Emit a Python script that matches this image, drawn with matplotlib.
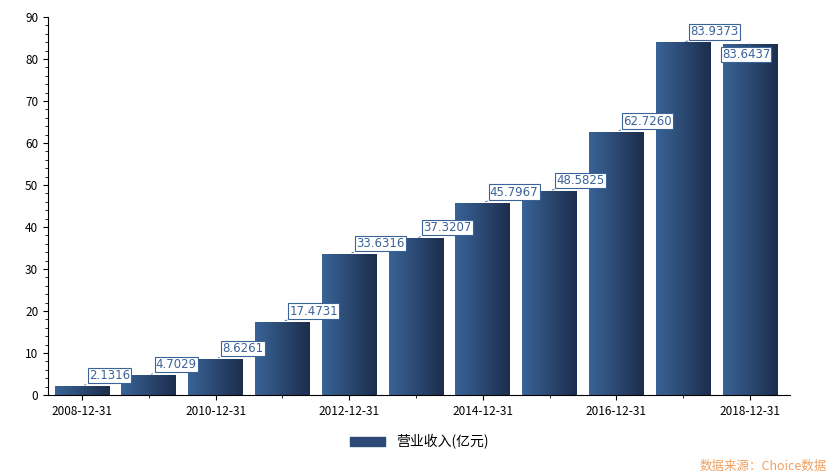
import numpy as np
import matplotlib.pyplot as plt
from matplotlib.patches import Patch

plt.rcParams['font.family'] = ['Noto Sans CJK SC', 'DejaVu Sans']

dates = ['2008-12-31', '2009-12-31', '2010-12-31', '2011-12-31', '2012-12-31', '2013-12-31',
         '2014-12-31', '2015-12-31', '2016-12-31', '2017-12-31', '2018-12-31']
revenue = [2.1316, 4.7029, 8.6261, 17.4731, 33.6316, 37.3207, 45.7967, 48.5825, 62.7260, 83.9373, 83.6437]
labels = ['2.1316', '4.7029', '8.6261', '17.4731', '33.6316', '37.3207', '45.7967', '48.5825',
          '62.7260', '83.9373', '83.6437']

fig = plt.figure(figsize=(8.31, 4.75), dpi=100)
ax = fig.add_axes([48/831, 80/475, 742/831, 378/475])

x = np.arange(len(revenue))
w = 0.82
bars = ax.bar(x, revenue, width=w, color='none', edgecolor='none')
grad = np.linspace(0, 1, 100).reshape(1, -1)
cmap = plt.matplotlib.colors.LinearSegmentedColormap.from_list('g', ['#3a6397', '#1c2e4c'])
for b in bars:
    bx, bw, bh = b.get_x(), b.get_width(), b.get_height()
    im = ax.imshow(grad, cmap=cmap, aspect='auto', extent=[bx, bx + bw, 0, bh], zorder=2)
    im.set_clip_path(b)

box = dict(boxstyle='square,pad=0.1', fc='white', ec='#3a6397', lw=0.8)
for i, (v, t) in enumerate(zip(revenue, labels)):
    if i == len(revenue) - 1:
        off, va = (-28, -4), 'top'
    else:
        off, va = (7, 4), 'bottom'
    ax.annotate(t, (i, v), xytext=off, textcoords='offset pixels', ha='left', va=va,
                fontsize=8.5, color='#3a6397', family='DejaVu Sans', bbox=box,
                arrowprops=dict(arrowstyle='-', color='#3a6397', lw=0.6), zorder=3)

ax.set_xlim(-0.51, 10.6)
ax.set_ylim(0, 90)
ax.set_yticks(range(0, 91, 10))
ax.set_yticks(range(0, 91, 2), minor=True)
ax.set_xticks(x[::2])
ax.set_xticklabels(dates[::2])
ax.set_xticks(x[1::2], minor=True)
ax.tick_params(labelsize=8.5, family='DejaVu Sans') if False else ax.tick_params(labelsize=8.5)
ax.spines['top'].set_visible(False)
ax.spines['right'].set_visible(False)

ax.legend(handles=[Patch(color='#2c4a75', label='营业收入(亿元)')], loc='upper center',
          bbox_to_anchor=(0.5, -0.07), frameon=False, fontsize=10, handlelength=2.5, handleheight=0.6)
fig.text(0.995, 0.005, '数据来源：Choice数据', color='#f0a060', fontsize=9, ha='right', va='bottom')

fig.savefig('out.png')
